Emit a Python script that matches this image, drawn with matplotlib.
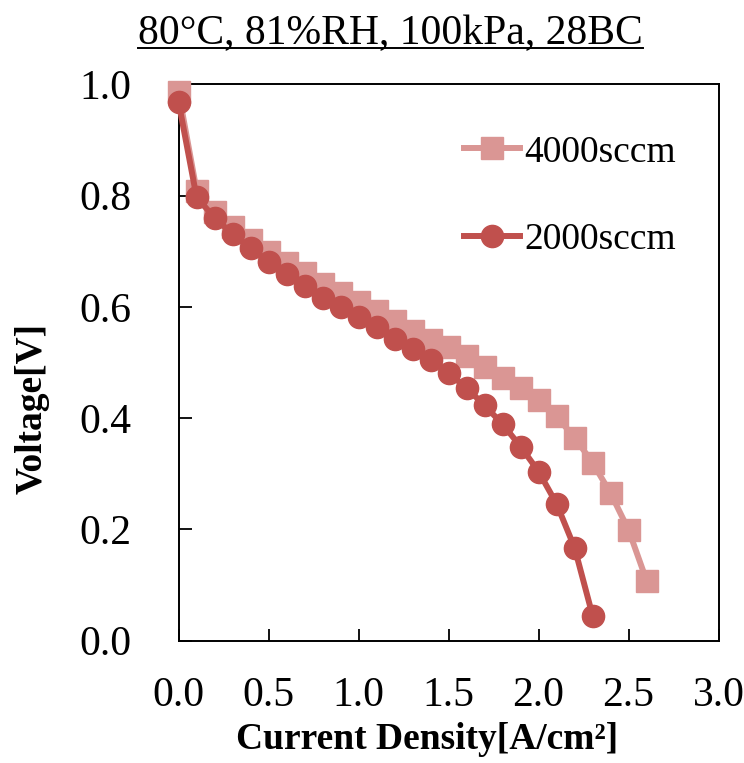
import matplotlib
matplotlib.use("Agg")
import matplotlib.pyplot as plt
from matplotlib.lines import Line2D

plt.rcParams["font.family"] = ["Liberation Serif", "DejaVu Serif"]

LIGHT, DARK = "#DA9694", "#C0504D"

x_4000 = [0.0, 0.1, 0.2, 0.3, 0.4, 0.5, 0.6, 0.7, 0.8, 0.9, 1.0, 1.1, 1.2, 1.3,
          1.4, 1.5, 1.6, 1.7, 1.8, 1.9, 2.0, 2.1, 2.2, 2.3, 2.4, 2.5, 2.6]
v_4000 = [0.986, 0.809, 0.771, 0.744, 0.720, 0.699, 0.679, 0.660, 0.641, 0.625,
          0.609, 0.593, 0.575, 0.557, 0.540, 0.528, 0.512, 0.492, 0.472, 0.454,
          0.433, 0.403, 0.365, 0.320, 0.265, 0.199, 0.108]
x_2000 = [0.0, 0.1, 0.2, 0.3, 0.4, 0.5, 0.6, 0.7, 0.8, 0.9, 1.0, 1.1, 1.2, 1.3,
          1.4, 1.5, 1.6, 1.7, 1.8, 1.9, 2.0, 2.1, 2.2, 2.3]
v_2000 = [0.968, 0.797, 0.760, 0.731, 0.705, 0.681, 0.659, 0.637, 0.616, 0.599,
          0.581, 0.563, 0.543, 0.525, 0.505, 0.481, 0.454, 0.423, 0.389, 0.349,
          0.304, 0.246, 0.167, 0.045]
x_ticks = [0.0, 0.5, 1.0, 1.5, 2.0, 2.5, 3.0]
y_ticks = [0.0, 0.2, 0.4, 0.6, 0.8, 1.0]

W, H = 744, 763
fig = plt.figure(figsize=(W / 100, H / 100), dpi=100)
ax = fig.add_axes([178.6 / W, 1 - 640.7 / H, 540 / W, 556.4 / H])

ax.plot(x_4000, v_4000, "-s", color=LIGHT, lw=4.3, ms=16.5, label="4000sccm",
        clip_on=False, zorder=3)
ax.plot(x_2000, v_2000, "-o", color=DARK, lw=4.3, ms=16, label="2000sccm",
        clip_on=False, zorder=4)

ax.set_xlim(0, 3.0)
ax.set_ylim(0, 1.0)
ax.set_xticks(x_ticks)
ax.set_yticks(y_ticks)
ax.set_xticklabels([f"{t:.1f}" for t in x_ticks])
ax.set_yticklabels([f"{t:.1f}" for t in y_ticks])
ax.tick_params(direction="in", length=9, width=1.3, labelsize=30)
ax.tick_params(axis="y", pad=34)
ax.tick_params(axis="x", pad=26)
for s in ax.spines.values():
    s.set_linewidth(1.4)

ax.set_xlabel("Current Density[A/cm²]", fontsize=27, fontweight="bold")
ax.xaxis.set_label_coords(0.46, -0.178)
ax.xaxis.label.set_va("center")
ax.set_ylabel("Voltage[V]", fontsize=27, fontweight="bold")
ax.yaxis.set_label_coords((32 - 178.6) / 540, (640.7 - 408) / 556.4)
ax.yaxis.label.set_va("center")

ax.legend(loc="upper left", bbox_to_anchor=((464 - 178.6) / 540, (640.7 - 135) / 556.4),
          frameon=False, fontsize=27, handlelength=1.5, handletextpad=0.1,
          labelspacing=1.42, borderaxespad=0, borderpad=0)

title = fig.text(390.5 / W, 1 - 44 / H, "80°C, 81%RH, 100kPa, 28BC",
                 fontsize=30, ha="center", va="baseline")
fig.canvas.draw()
bb = title.get_window_extent().transformed(fig.transFigure.inverted())
uy = 1 - 48 / H
fig.add_artist(Line2D([bb.x0, bb.x1], [uy, uy],
                      transform=fig.transFigure, color="black", lw=1.4))

fig.savefig("out.png", dpi=100)
